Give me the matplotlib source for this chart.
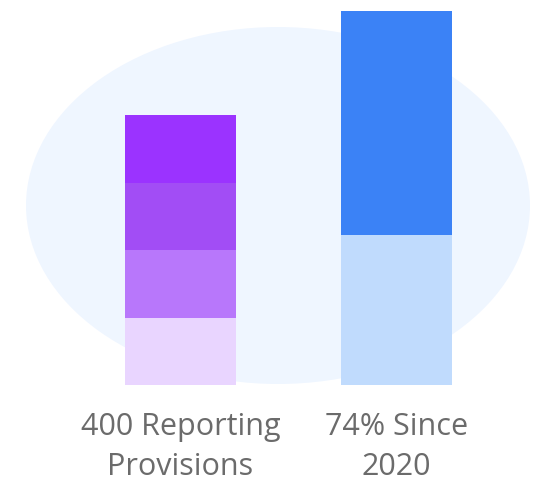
import matplotlib
matplotlib.use("Agg")
import matplotlib.pyplot as plt
from matplotlib.patches import Ellipse

categories = ["400 Reporting\nProvisions", "74% Since\n2020"]
left_segments = [100, 100, 100, 100]          # bottom -> top
left_colors = ["#E9D5FF", "#B877FB", "#A24DF5", "#9B33FF"]
right_segments = [222, 332]                   # bottom -> top
right_colors = ["#C0DBFD", "#3B82F6"]

W, H = 540, 481
fig = plt.figure(figsize=(W / 100, H / 100), dpi=100)
base_px = 386
ax = fig.add_axes([0, (H - base_px) / H, 1, base_px / H])
ax.patch.set_visible(False)

px_per_x = 216.0
c0 = 180.5
ax.set_xlim(-c0 / px_per_x, (W - c0) / px_per_x)
ax.set_ylim(0, base_px / 0.675)

ell = Ellipse((278 / W, (base_px - 206.5) / base_px), 504 / W, 357 / base_px,
              transform=ax.transAxes, facecolor="#EFF6FF", edgecolor="none", zorder=0)
ax.add_patch(ell)

bw = 111 / px_per_x
bottom = 0
for v, c in zip(left_segments, left_colors):
    ax.bar(0, v, bottom=bottom, width=bw, color=c, zorder=2, linewidth=0)
    bottom += v
bottom = 0
for v, c in zip(right_segments, right_colors):
    ax.bar(1, v, bottom=bottom, width=bw, color=c, zorder=2, linewidth=0)
    bottom += v

for s in ax.spines.values():
    s.set_visible(False)
ax.set_yticks([])
ax.set_xticks([0, 1])
ax.set_xticklabels(categories, fontfamily="Open Sans", fontsize=22, color="#6B6B6B",
                   linespacing=1.42, multialignment="center")
ax.tick_params(axis="x", length=0, pad=19)

fig.savefig("out.png", dpi=100)
